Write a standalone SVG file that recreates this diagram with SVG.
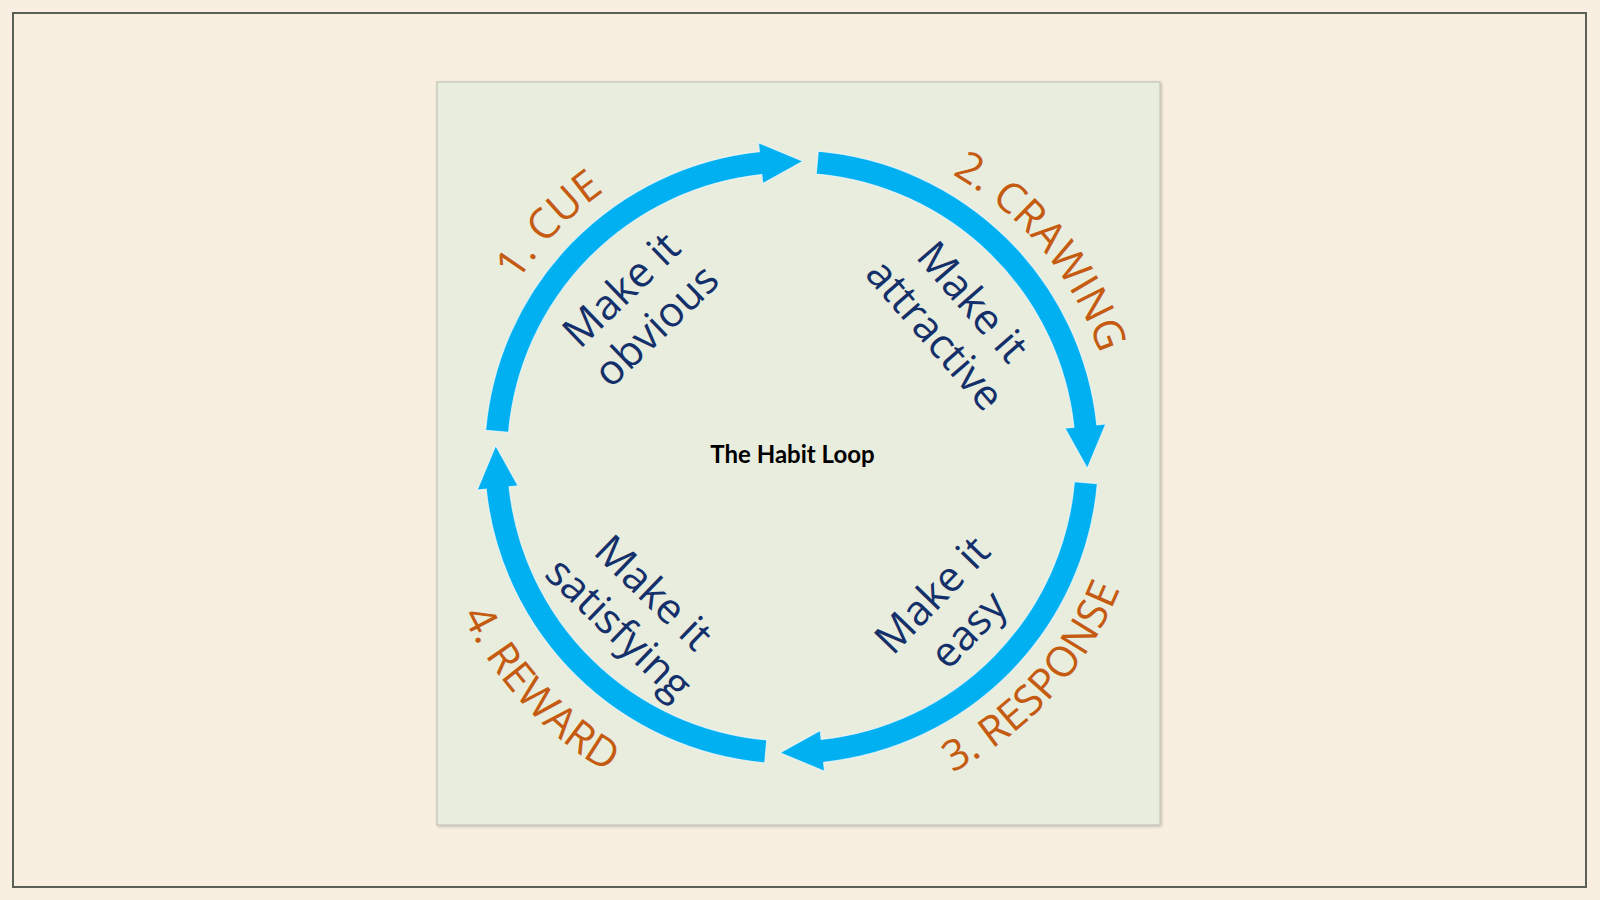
<svg xmlns="http://www.w3.org/2000/svg" xmlns:xlink="http://www.w3.org/1999/xlink" width="1600" height="900" viewBox="0 0 1600 900">
<style>
.stage{font-family:"Open Sans","Noto Sans",sans-serif;font-size:42px;fill:#c55a11;}
.tip{font-family:"Open Sans","Noto Sans",sans-serif;font-size:42px;fill:#14306b;text-anchor:middle;}
.title{font-family:Lato,"Liberation Sans",sans-serif;font-weight:bold;font-size:24px;fill:#000;text-anchor:middle;}
.arc{fill:#00b0f0;stroke:#f4faff;stroke-width:1.2;stroke-opacity:0.7;}
</style>
<defs>
<filter id="sh" x="-5%" y="-5%" width="110%" height="110%"><feDropShadow dx="1" dy="1" stdDeviation="1.5" flood-color="#000" flood-opacity="0.25"/></filter>
<path id="seg" d="M 305.83 26.76 A 307 307 0 0 1 32.09 305.32 L 33.03 314.27 L -11.36 295.78 L 28.75 273.49 L 29.69 282.44 A 284 284 0 0 0 282.92 24.75 Z"/>
<path id="topc" d="M 466.5 457 A 325 325 0 1 1 1116.5 457 A 325 325 0 1 1 466.5 457"/>
<path id="resp" d="M 437.5 457 A 354 354 0 1 0 1145.5 457 A 354 354 0 1 0 437.5 457"/>
<path id="rew" d="M 426.5 457 A 365 365 0 1 0 1156.5 457 A 365 365 0 1 0 426.5 457"/>
</defs>
<rect x="0" y="0" width="1600" height="900" fill="#f8efe0"/>
<rect x="13" y="13" width="1573" height="874" fill="none" stroke="#5b6057" stroke-width="2"/>
<rect id="panel" x="437" y="82" width="723" height="743" fill="#e8eddd" stroke="#bdbdb0" stroke-width="1" filter="url(#sh)"/>
<g id="connectors">
<use xlink:href="#seg" class="arc" transform="translate(791.5 457) rotate(180)"/>
<use xlink:href="#seg" class="arc" transform="translate(791.5 457) rotate(270)"/>
<use xlink:href="#seg" class="arc" transform="translate(791.5 457)"/>
<use xlink:href="#seg" class="arc" transform="translate(791.5 457) rotate(90)"/>
</g>
<g id="center"><text class="title" x="792.5" y="463">The Habit Loop</text></g>
<g id="cue">
<text class="stage"><textPath xlink:href="#topc" startOffset="248" text-anchor="middle">1. CUE</textPath></text>
<g transform="translate(639 308) rotate(-44)"><text class="tip" x="0" y="-11">Make it</text><text class="tip" x="0" y="39">obvious</text></g>
</g>
<g id="craving">
<text class="stage"><textPath xlink:href="#topc" startOffset="797" text-anchor="middle">2. CRAWING</textPath></text>
<g transform="translate(953.5 318.5) rotate(49)"><text class="tip" x="0" y="-11">Make it</text><text class="tip" x="0" y="39">attractive</text></g>
</g>
<g id="response">
<text class="stage"><textPath xlink:href="#resp" startOffset="850" text-anchor="middle">3. RESPONSE</textPath></text>
<g transform="translate(950.5 612.5) rotate(-46)"><text class="tip" x="0" y="-11">Make it</text><text class="tip" x="0" y="39">easy</text></g>
</g>
<g id="reward">
<text class="stage"><textPath xlink:href="#rew" startOffset="272" text-anchor="middle">4. REWARD</textPath></text>
<g transform="translate(636 611) rotate(44)"><text class="tip" x="0" y="-11">Make it</text><text class="tip" x="0" y="39">satisfying</text></g>
</g>
</svg>
